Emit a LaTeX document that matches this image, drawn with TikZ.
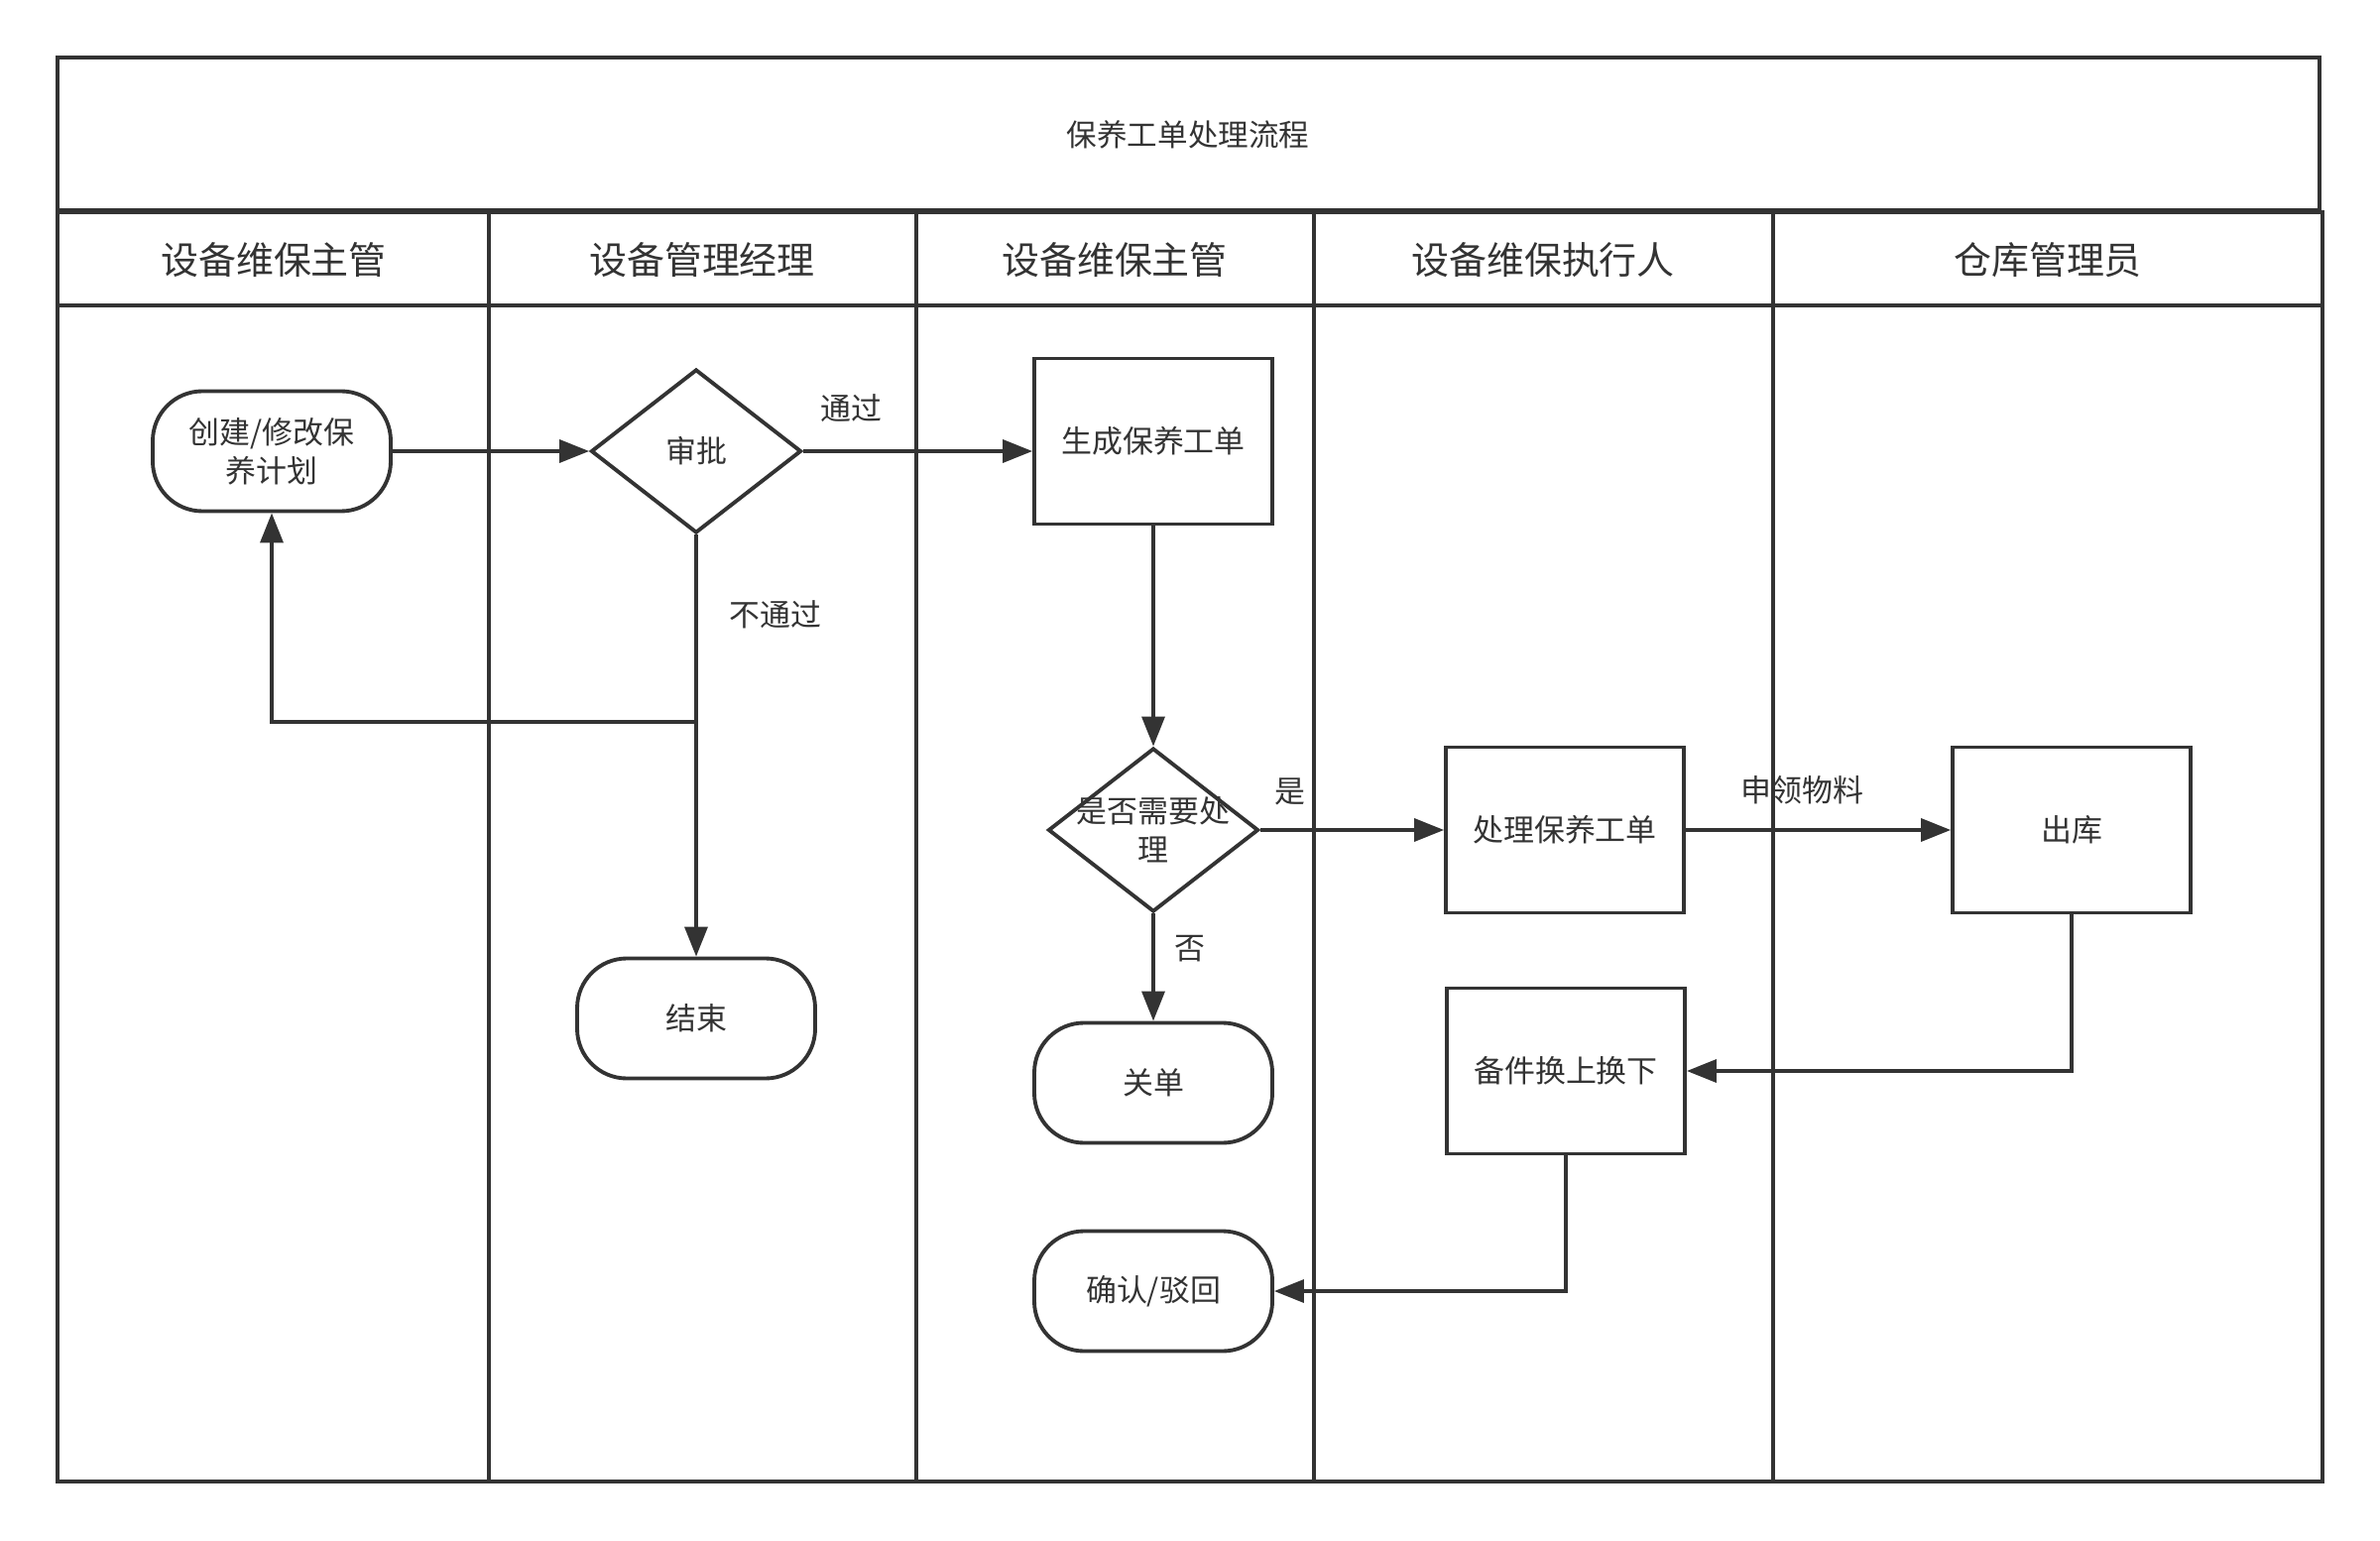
\documentclass[tikz,border=0pt]{standalone}
\usepackage{fontspec}
\setmainfont{Noto Sans CJK SC}
\usepackage{xcolor}
\usetikzlibrary{shapes.geometric, arrows.meta, positioning}
\definecolor{ink}{HTML}{333333}

\tikzset{
  lane/.style={draw=ink, line width=1.1pt},
  proc/.style={draw=ink, line width=1.1pt, minimum width=2.4cm, minimum height=1.67cm, text=ink, font=\fontsize{8.8}{11}\selectfont},
  term/.style={proc, rounded corners=0.5cm, minimum height=1.21cm, align=center},
  decide/.style={proc, diamond, minimum width=2.12cm, minimum height=1.65cm, inner sep=0pt},
  flow/.style={draw=ink, line width=1pt, -{Triangle[length=0.3cm,width=0.23cm]}},
  tag/.style={text=ink, font=\fontsize{8.8}{11}\selectfont},
  head/.style={text=ink, font=\fontsize{10.8}{13}\selectfont}
}

\begin{document}
\begin{tikzpicture}
\useasboundingbox (0,0) rectangle (24,-15.54);

% frame of the lanes
\draw[lane] (0.58,-0.58) rectangle (23.39,-2.12);
\draw[lane] (0.58,-2.14) rectangle (23.42,-14.94);
\draw[lane] (0.58,-3.08) -- (23.42,-3.08);
\foreach \x in {4.93,9.24,13.25,17.88}
  \draw[lane] (\x,-2.14) -- (\x,-14.94);

\node[text=ink, font=\fontsize{8.7}{11}\selectfont] (title) at (11.98,-1.36) {保养工单处理流程};
\foreach \x/\t [count=\i] in {2.76/设备维保主管, 7.08/设备管理经理, 11.24/设备维保主管, 15.56/设备维保执行人, 20.65/仓库管理员}
  \node[head] (lane\i) at (\x,-2.62) {\t};

% steps
\node[term] (plan) at (2.74,-4.55) {创建/修改保\\养计划};
\node[decide] (shen) at (7.02,-4.55) {审批};
\node[term] (finish) at (7.02,-10.27) {结束};
\node[proc] (gen) at (11.63,-4.45) {生成保养工单};
\node[decide, label={[tag, align=center]center:是否需要处\\理}] (need) at (11.63,-8.37) {};
\node[term] (close) at (11.63,-10.92) {关单};
\node[term] (confirm) at (11.63,-13.02) {确认/驳回};
\node[proc] (work) at (15.78,-8.37) {处理保养工单};
\node[proc] (spare) at (15.79,-10.80) {备件换上换下};
\node[proc] (out) at (20.89,-8.37) {出库};
\coordinate (back) at (7.02,-7.28);

% connectors
\draw[flow] (plan.east) -- (shen.west);
\draw[flow] (shen.east) -- node[tag, pos=0.21, above=0.16cm] {通过} (shen.east -| gen.west);
\draw[flow] (shen.south) -- node[tag, pos=0.19, right=0.2cm] {不通过} (finish.north);
\draw[flow] (back) -| (plan.south);
\draw[flow] (gen.south) -- (need.north);
\draw[flow] (need.east) -- node[tag, pos=0.16, above=0.12cm] {是} (work.west);
\draw[flow] (need.south) -- node[tag, pos=0.33, right=0.08cm] {否} (close.north);
\draw[flow] (work.east) -- node[tag, pos=0.44, above=0.12cm] {申领物料} (out.west);
\draw[flow] (out.south) |- (spare.east);
\draw[flow] (spare.south) |- (confirm.east);
\end{tikzpicture}
\end{document}
